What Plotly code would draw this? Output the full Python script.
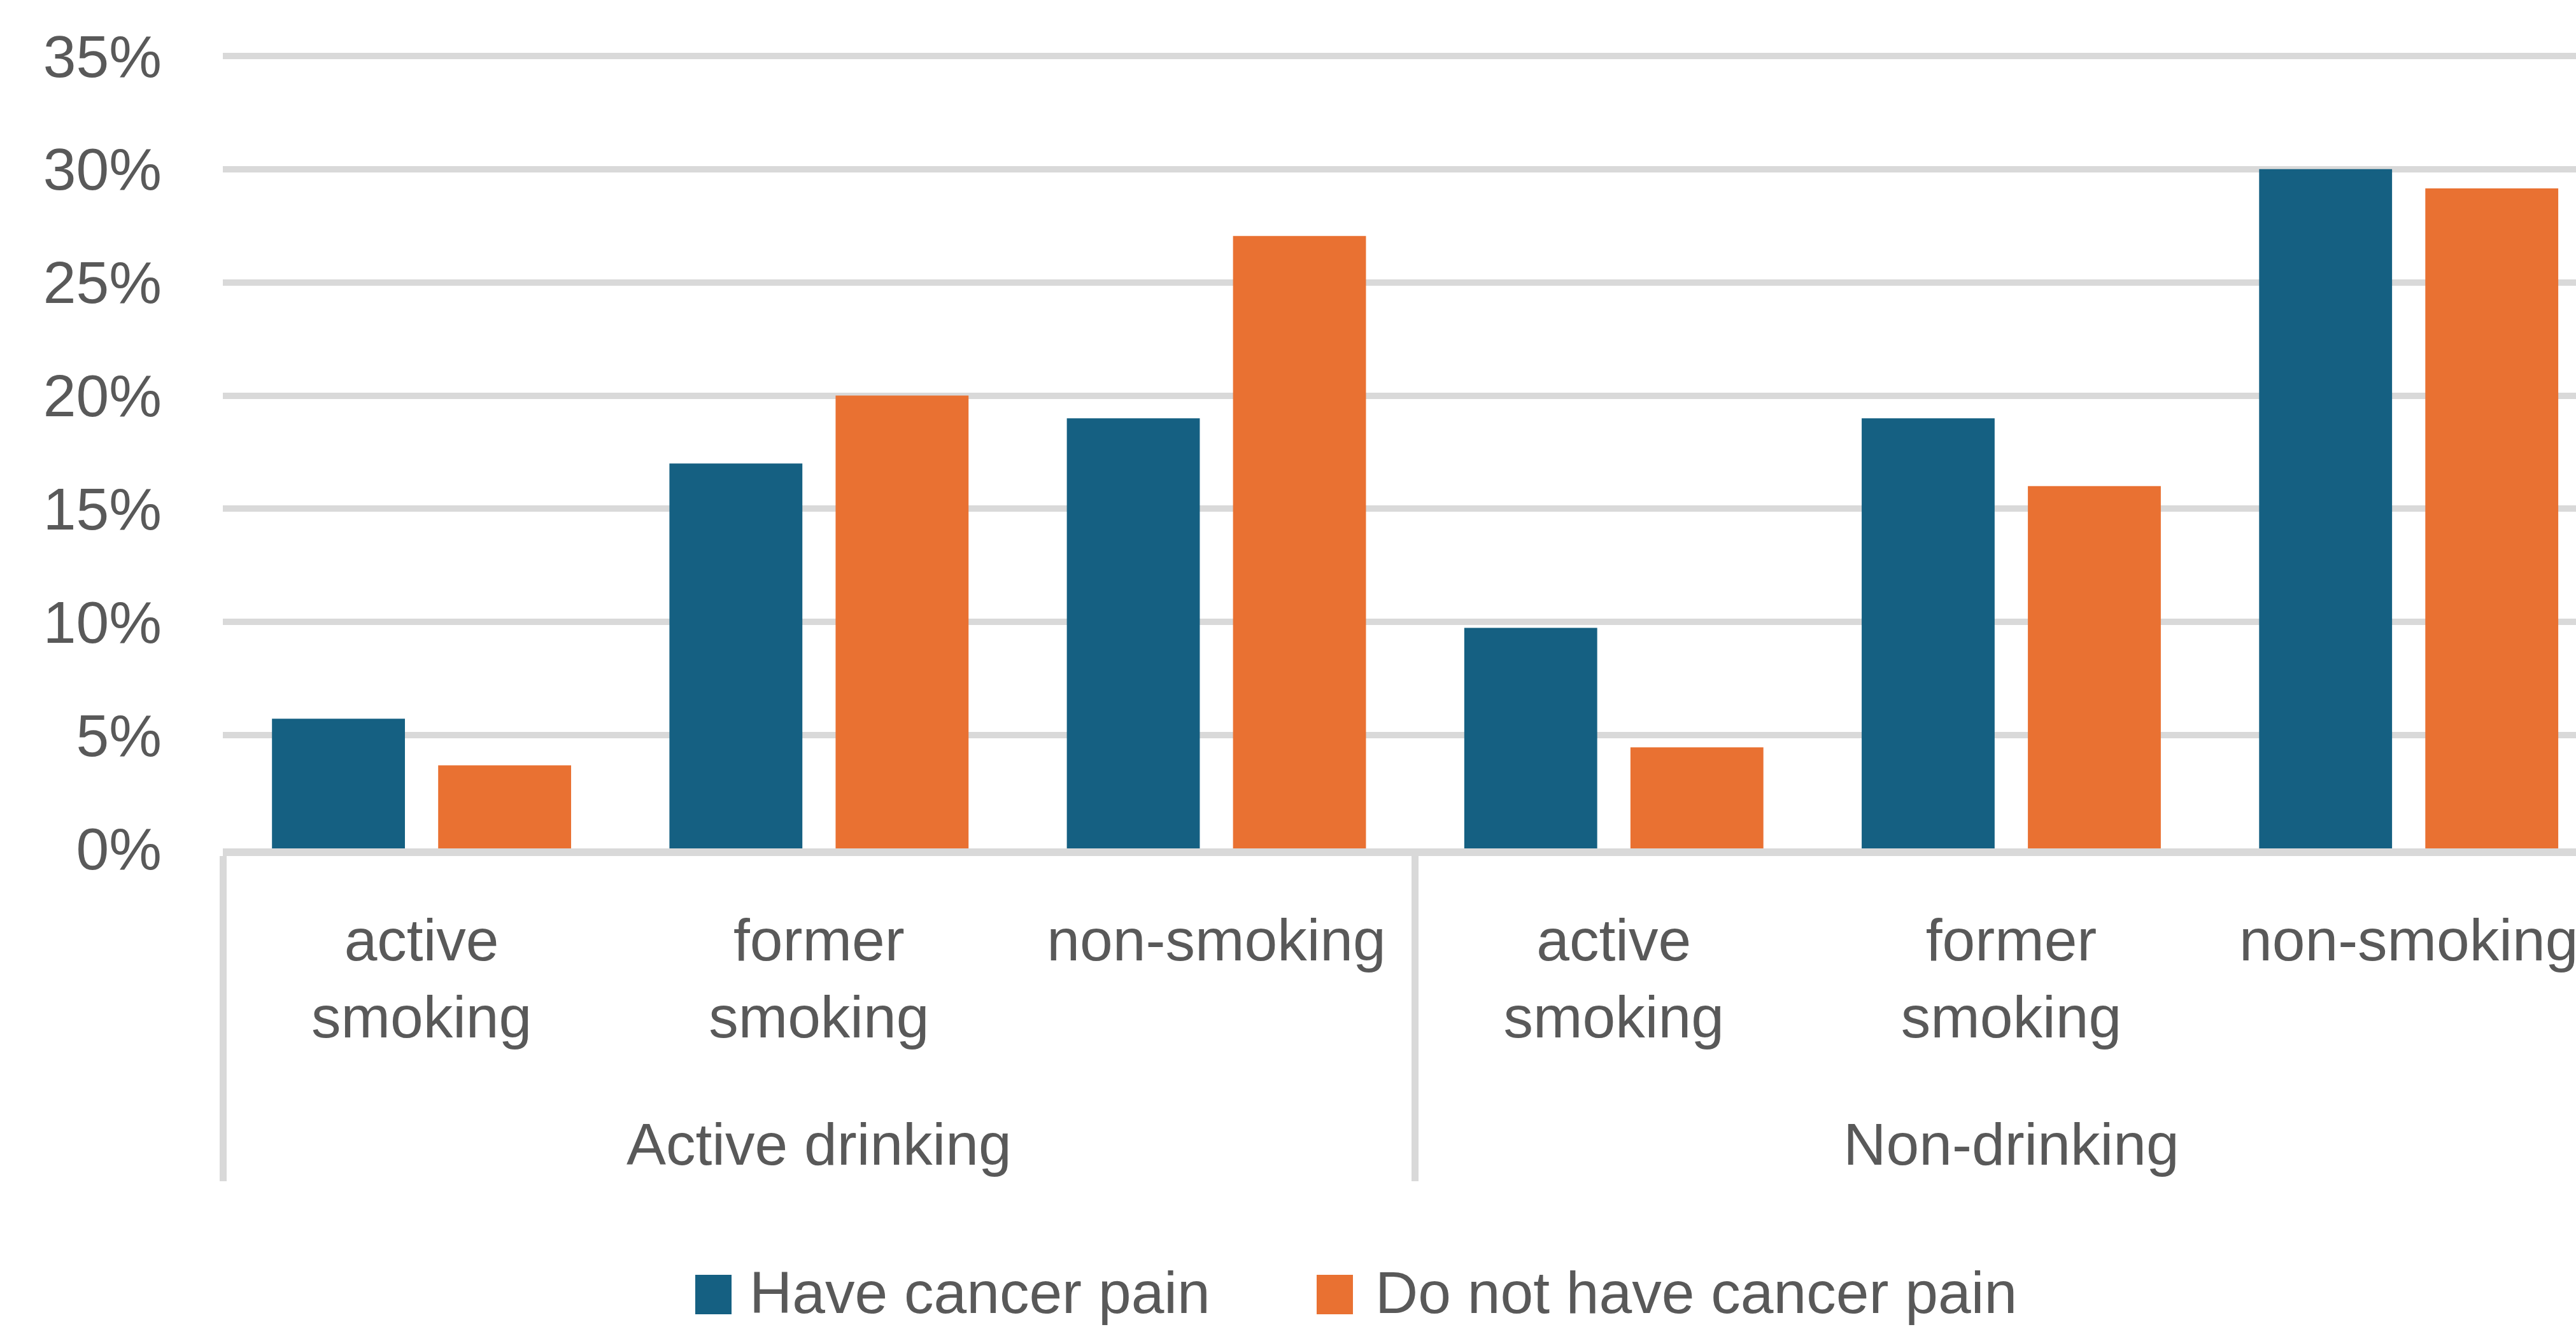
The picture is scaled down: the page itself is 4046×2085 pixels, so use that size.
import plotly.graph_objects as go

# ---- data ----
drinking_groups = ["Active drinking", "Active drinking", "Active drinking",
                   "Non-drinking", "Non-drinking", "Non-drinking"]
smoking_status = ["active<br>smoking", "former<br>smoking", "non-smoking",
                  "active<br>smoking", "former<br>smoking", "non-smoking"]
series_names = ["Have cancer pain", "Do not have cancer pain"]
have_pain = [5.73, 17.0, 19.0, 9.74, 19.0, 30.0]
no_pain = [3.67, 20.0, 27.05, 4.46, 16.0, 29.15]
y_ticks = [0, 5, 10, 15, 20, 25, 30, 35]
y_tick_text = ["0%", "5%", "10%", "15%", "20%", "25%", "30%", "35%"]

colors = ["#156082", "#E97132"]
TEXT = "#595959"
GRID = "#D9D9D9"
FONT = "Liberation Sans, Arial, sans-serif"
FS = 93

W, H = 4046, 2085
Y0_PX, Y35_PX = 1333, 88           # pixel rows of 0% and 35%
unit = (Y0_PX - Y35_PX) / 35.0
YMAX = 35 + 5 / unit                # a little headroom so the 35% gridline is drawn
L = 350
T = int(round(Y35_PX - 5))
B = H - Y0_PX

# blank spacer line under the wrapped labels gives room for the group row
spacer = "<br><span style='font-size:215px'>&nbsp;</span>"
inner_labels = [s + spacer for s in smoking_status]

fig = go.Figure()
for name, vals, col in zip(series_names, [have_pain, no_pain], colors):
    fig.add_trace(go.Bar(
        x=[drinking_groups, inner_labels], y=vals, name=name,
        marker=dict(color=col, line=dict(width=0)), showlegend=False,
    ))

fig.update_layout(
    width=W, height=H,
    margin=dict(l=L, r=0, t=T, b=B, pad=0),
    paper_bgcolor="white", plot_bgcolor="white",
    barmode="group", bargap=0.1637, bargroupgap=0.2,
    font=dict(family=FONT, size=FS, color=TEXT),
)
fig.update_xaxes(
    type="multicategory",
    range=[-0.5, 5.421],
    showline=True, linecolor=GRID, linewidth=12,
    showgrid=False, zeroline=False,
    showdividers=True, dividercolor=GRID, dividerwidth=11,
    ticks="", tickfont=dict(family=FONT, size=FS, color=TEXT),
    ticklabelstandoff=52,
)
fig.update_yaxes(
    range=[0, YMAX], tickvals=y_ticks, ticktext=y_tick_text,
    showgrid=True, gridcolor=GRID, gridwidth=10,
    zeroline=False, showline=False, ticks="",
    tickfont=dict(family=FONT, size=FS, color=TEXT),
    ticklabelstandoff=95,
)

# legend (drawn as swatches + labels)
pw = W - L
ph = (H - B) - T
def px_x(p):
    return (p - L) / pw
def px_y(p):
    return ((H - B) - p) / ph

legend_items = [(1092, 1149, 1176), (2068, 2125, 2159)]
for (x0, x1, tx), name, col in zip(legend_items, series_names, colors):
    fig.add_shape(type="rect", xref="paper", yref="paper",
                  x0=px_x(x0), x1=px_x(x1), y0=px_y(2065), y1=px_y(2003),
                  fillcolor=col, line=dict(width=0))
    fig.add_annotation(xref="paper", yref="paper", x=px_x(tx), y=px_y(2084),
                       xanchor="left", yanchor="bottom", showarrow=False,
                       borderpad=0, text=name,
                       font=dict(family=FONT, size=FS, color=TEXT))

fig.write_html("out.html")
